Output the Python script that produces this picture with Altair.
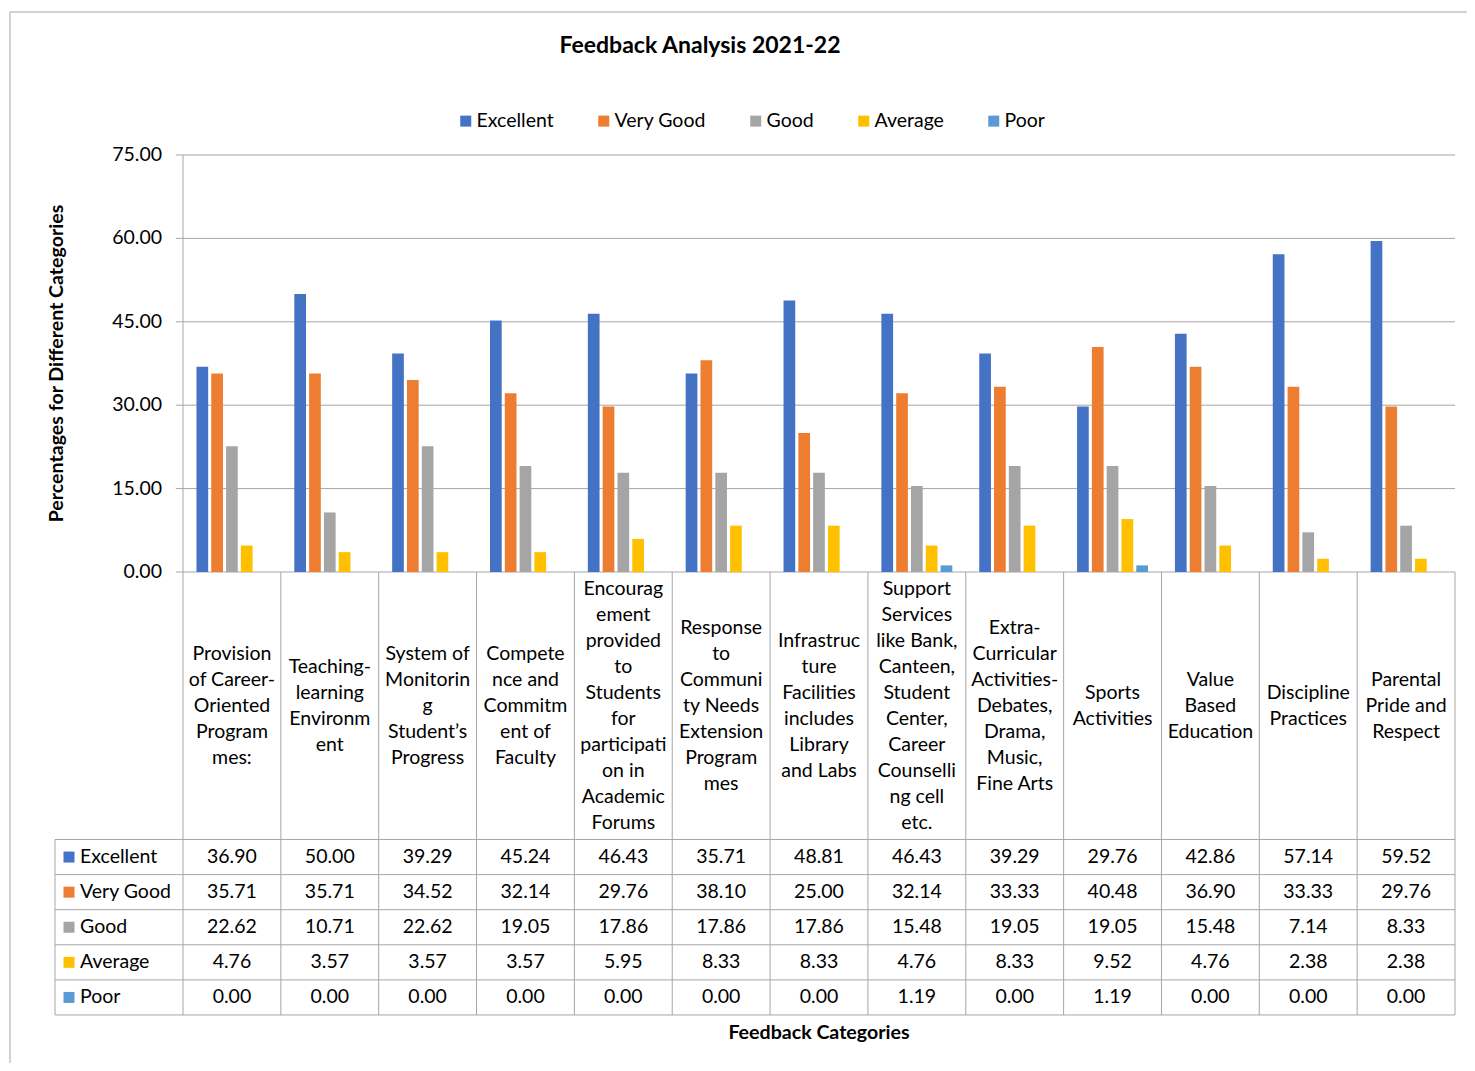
import altair as alt
import pandas as pd

# ---------------- data ----------------
chart_title = "Feedback Analysis 2021-22"
x_title = "Feedback Categories"
y_title = "Percentages for Different Categories"

series = ["Excellent", "Very Good", "Good", "Average", "Poor"]
colors = ["#4472C4", "#ED7D31", "#A5A5A5", "#FFC000", "#5B9BD5"]

category_lines = [
    ["Provision", "of Career-", "Oriented", "Program", "mes:"],
    ["Teaching-", "learning", "Environm", "ent"],
    ["System of", "Monitorin", "g", "Student’s", "Progress"],
    ["Compete", "nce and", "Commitm", "ent of", "Faculty"],
    ["Encourag", "ement", "provided", "to", "Students", "for", "participati", "on in", "Academic", "Forums"],
    ["Response", "to", "Communi", "ty Needs", "Extension", "Program", "mes"],
    ["Infrastruc", "ture", "Facilities", "includes", "Library", "and Labs"],
    ["Support", "Services", "like Bank,", "Canteen,", "Student", "Center,", "Career", "Counselli", "ng cell", "etc."],
    ["Extra-", "Curricular", "Activities-", "Debates,", "Drama,", "Music,", "Fine Arts"],
    ["Sports", "Activities"],
    ["Value", "Based", "Education"],
    ["Discipline", "Practices"],
    ["Parental", "Pride and", "Respect"],
]

excellent = [36.90, 50.00, 39.29, 45.24, 46.43, 35.71, 48.81, 46.43, 39.29, 29.76, 42.86, 57.14, 59.52]
very_good = [35.71, 35.71, 34.52, 32.14, 29.76, 38.10, 25.00, 32.14, 33.33, 40.48, 36.90, 33.33, 29.76]
good = [22.62, 10.71, 22.62, 19.05, 17.86, 17.86, 17.86, 15.48, 19.05, 19.05, 15.48, 7.14, 8.33]
average = [4.76, 3.57, 3.57, 3.57, 5.95, 8.33, 8.33, 4.76, 8.33, 9.52, 4.76, 2.38, 2.38]
poor = [0.00, 0.00, 0.00, 0.00, 0.00, 0.00, 0.00, 1.19, 0.00, 1.19, 0.00, 0.00, 0.00]

y_ticks = [0, 15, 30, 45, 60, 75]

# ---------------- layout constants (scale units) ----------------
N = len(category_lines)
LEFT_COL = 1.3082      # width of the table's series-name column, in category units
Y_MIN = -79.676        # bottom of the data table, in value units
Y_MAX = 75
HEADER = 48.11         # height of the category-label row
ROW = 6.313            # height of each table row
LINE_H = 4.676         # line height of the wrapped category labels
BAR_STEP = 0.1513
BAR_HALF = 0.0598
TICK_LEN = 0.0715
LABEL_GAP = 0.2146

FONT = "Lato"
FS = 19.5
GRID = "#A6A6A6"

all_values = [excellent, very_good, good, average, poor]
rows = []
for si, (name, vals) in enumerate(zip(series, all_values)):
    for ci, v in enumerate(vals):
        rows.append({"ci": ci, "si": si, "series": name, "value": v})
df = pd.DataFrame(rows)

lab_rows = []
for ci, lines in enumerate(category_lines):
    for j, line in enumerate(lines):
        lab_rows.append({"ci": ci, "j": j, "n": len(lines), "line": line})
lab_df = pd.DataFrame(lab_rows)

series_df = pd.DataFrame({"si": list(range(len(series))), "series": series})
grid_df = pd.DataFrame({"v": y_ticks})
hline_df = pd.DataFrame({"r": list(range(len(series) + 1))})
vline_df = pd.DataFrame({"c": list(range(1, N + 1))})

xs = alt.Scale(domain=[-LEFT_COL, N], nice=False, zero=False)
ys = alt.Scale(domain=[Y_MIN, Y_MAX], nice=False, zero=False)
cs = alt.Scale(domain=series, range=colors)

# gridlines
grid = alt.Chart(grid_df).mark_rule(color=GRID, strokeWidth=1).encode(
    x=alt.datum(-TICK_LEN, scale=xs, axis=None),
    x2=alt.datum(N),
    y=alt.Y("v:Q", scale=ys, axis=None),
)

# y axis line (continues down as the table's left edge of the first category column)
y_domain = alt.Chart(pd.DataFrame({"c": [0]})).mark_rule(color=GRID).encode(
    x=alt.X("c:Q", scale=xs, axis=None),
    y=alt.datum(Y_MAX, scale=ys, axis=None), y2=alt.datum(Y_MIN),
)

# y tick labels
y_labels = alt.Chart(grid_df).mark_text(
    font=FONT, fontSize=FS, color="#000000", align="right", baseline="middle",
).encode(
    x=alt.datum(-LABEL_GAP, scale=xs, axis=None),
    y=alt.Y("v:Q", scale=ys, axis=None),
    text=alt.Text("v:Q", format=".2f"),
)

# axis titles and chart title
titles_df = pd.DataFrame({
    "t": [y_title, x_title, chart_title],
    "kind": ["y", "x", "main"],
})
y_title_mark = alt.Chart(titles_df).transform_filter("datum.kind == 'y'").mark_text(
    font=FONT, fontSize=19.6, fontWeight="bold", color="#000000", angle=270,
    align="center", baseline="middle",
).encode(
    x=alt.datum(-LEFT_COL + 0.021, scale=xs, axis=None),
    y=alt.datum(Y_MAX / 2, scale=ys, axis=None),
    text="t:N",
)
x_title_mark = alt.Chart(titles_df).transform_filter("datum.kind == 'x'").mark_text(
    font=FONT, fontSize=19.6, fontWeight="bold", color="#000000",
    align="center", baseline="middle",
).encode(
    x=alt.datum(N / 2, scale=xs, axis=None),
    y=alt.datum(-83.0, scale=ys, axis=None),
    text="t:N",
)
main_title = alt.Chart(titles_df).transform_filter("datum.kind == 'main'").mark_text(
    font=FONT, fontSize=23, fontWeight="bold", color="#000000",
    align="center", baseline="middle",
).encode(
    x=alt.datum(5.284, scale=xs, axis=None),
    y=alt.datum(94.6, scale=ys, axis=None),
    text="t:N",
)

# bars
bars = alt.Chart(df).transform_calculate(
    xa=f"datum.ci + 0.5 + (datum.si - 2) * {BAR_STEP} - {BAR_HALF}",
    xb=f"datum.ci + 0.5 + (datum.si - 2) * {BAR_STEP} + {BAR_HALF}",
).mark_bar().encode(
    x=alt.X("xa:Q", scale=xs, axis=None),
    x2="xb:Q",
    y=alt.Y("value:Q", scale=ys, axis=None),
    y2=alt.datum(0),
    color=alt.Color("series:N", scale=cs, sort=series, legend=alt.Legend(
        title=None, orient="none", legendX=401, legendY=-44, direction="horizontal",
        symbolType="square", symbolSize=121, symbolStrokeWidth=0,
        labelFont=FONT, labelFontSize=FS, labelColor="#000000", labelOffset=1,
        columnPadding=40, padding=0,
    )),
)

# table horizontal lines
hlines = alt.Chart(hline_df).transform_calculate(
    yy=f"-{HEADER} - datum.r * {ROW}"
).mark_rule(color=GRID).encode(
    x=alt.datum(-LEFT_COL, scale=xs, axis=None), x2=alt.datum(N),
    y=alt.Y("yy:Q", scale=ys, axis=None),
)

# table vertical lines
vlines = alt.Chart(vline_df).mark_rule(color=GRID).encode(
    x=alt.X("c:Q", scale=xs, axis=None),
    y=alt.datum(0, scale=ys, axis=None), y2=alt.datum(Y_MIN),
)
left_border = alt.Chart(pd.DataFrame({"c": [-LEFT_COL]})).mark_rule(color=GRID).encode(
    x=alt.X("c:Q", scale=xs, axis=None),
    y=alt.datum(-HEADER, scale=ys, axis=None), y2=alt.datum(Y_MIN),
)

# category labels (one datum per wrapped line)
cat_text = alt.Chart(lab_df).transform_calculate(
    xc="datum.ci + 0.5",
    yc=f"-{HEADER} / 2 - (datum.j - (datum.n - 1) / 2) * {LINE_H}",
).mark_text(
    font=FONT, fontSize=FS, color="#000000", align="center", baseline="middle",
).encode(
    x=alt.X("xc:Q", scale=xs, axis=None),
    y=alt.Y("yc:Q", scale=ys, axis=None),
    text="line:N",
)

# table values
val_text = alt.Chart(df).transform_calculate(
    xc="datum.ci + 0.5",
    yc=f"-{HEADER} - (datum.si + 0.5) * {ROW}",
).mark_text(font=FONT, fontSize=FS, color="#000000", align="center", baseline="middle").encode(
    x=alt.X("xc:Q", scale=xs, axis=None),
    y=alt.Y("yc:Q", scale=ys, axis=None),
    text=alt.Text("value:Q", format=".2f"),
)

# series names and keys in the table
key_sq = alt.Chart(series_df).transform_calculate(
    xk=f"-{LEFT_COL} + 0.1431",
    yc=f"-{HEADER} - (datum.si + 0.5) * {ROW}",
).mark_point(shape="square", filled=True, size=121, opacity=1).encode(
    x=alt.X("xk:Q", scale=xs, axis=None),
    y=alt.Y("yc:Q", scale=ys, axis=None),
    color=alt.Color("series:N", scale=cs, sort=series),
)
key_text = alt.Chart(series_df).transform_calculate(
    xk=f"-{LEFT_COL} + 0.2555",
    yc=f"-{HEADER} - (datum.si + 0.5) * {ROW}",
).mark_text(font=FONT, fontSize=FS, color="#000000", align="left", baseline="middle").encode(
    x=alt.X("xk:Q", scale=xs, axis=None),
    y=alt.Y("yc:Q", scale=ys, axis=None),
    text="series:N",
)

# outer chart border
border = alt.Chart(pd.DataFrame({"b": [1]})).mark_rect(
    fill="transparent", stroke="#A6A6A6", strokeWidth=1
).encode(
    x=alt.value(-45), y=alt.value(-143), x2=alt.value(1440), y2=alt.value(940),
)

chart = alt.layer(
    border, grid, hlines, vlines, left_border, y_domain, bars,
    y_labels, y_title_mark, x_title_mark, main_title,
    cat_text, val_text, key_sq, key_text,
).properties(
    width=1400, height=860,
    autosize=alt.AutoSizeParams(type="none"),
    padding={"left": 47, "top": 147, "right": 12, "bottom": 48},
).configure(background="white").configure_view(stroke=None)

chart.save("out.html", embed_options={"renderer": "svg", "actions": False})
